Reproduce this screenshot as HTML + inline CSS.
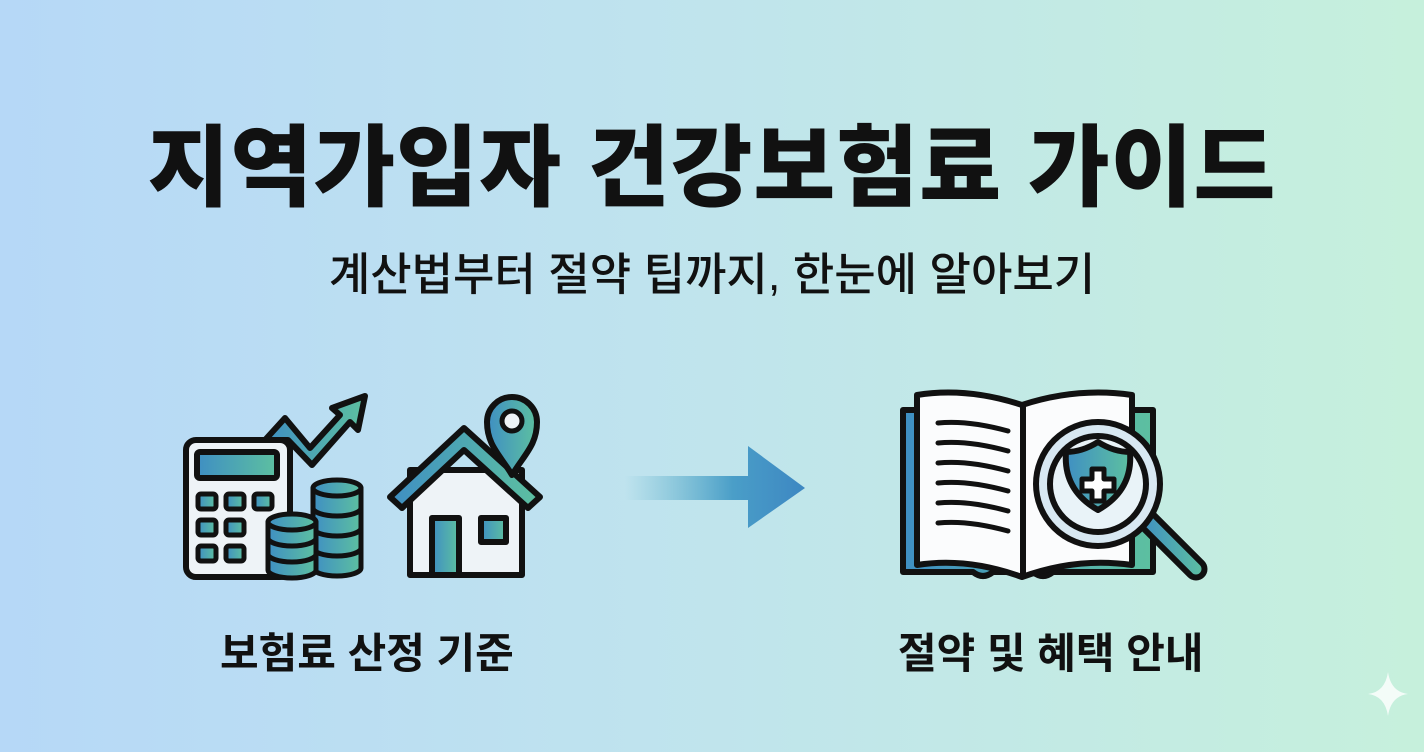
<!DOCTYPE html>
<html><head><meta charset="utf-8"><style>
body{margin:0;width:1424px;height:752px;overflow:hidden;background:linear-gradient(90deg,#b6d8f7 0%,#bfe3ee 45%,#c6f0dc 100%);font-family:"Liberation Sans","Noto Sans CJK KR",sans-serif;color:#111;position:relative}
.t{position:absolute;left:0;width:1424px;text-align:center}
</style></head><body>
<div class="t" style="top:96px;font-size:89px;font-weight:900;letter-spacing:1px">지역가입자 건강보험료 가이드</div>
<div class="t" style="top:238px;font-size:45px;font-weight:500">계산법부터 절약 팁까지, 한눈에 알아보기</div>
<div style="position:absolute;left:220px;top:620px;font-size:42px;font-weight:700">보험료 산정 기준</div>
<div style="position:absolute;left:898px;top:620px;font-size:42px;font-weight:700">절약 및 혜택 안내</div>
<svg width="1424" height="752" style="position:absolute;left:0;top:0">
<defs>
<linearGradient id="g" x1="0" y1="0" x2="1" y2="0"><stop offset="0" stop-color="#3f8fc3"/><stop offset="1" stop-color="#5dc0a0"/></linearGradient>
<linearGradient id="ar" x1="625" y1="0" x2="805" y2="0" gradientUnits="userSpaceOnUse"><stop offset="0" stop-color="#5ab0c8" stop-opacity="0"/><stop offset="0.6" stop-color="#4a9ec8"/><stop offset="1" stop-color="#3d87c2"/></linearGradient>
</defs>
<g stroke="#111" stroke-width="6" stroke-linejoin="round" stroke-linecap="round">
<path d="M265 440 L285 418 L310 448 L340 415 L332 408 L365 396 L358 430 L350 422 L312 465 L288 440 Z" fill="url(#g)"/>
<rect x="186" y="440" width="104" height="137" rx="10" fill="#eef3f7"/>
<rect x="197" y="452" width="80" height="26" rx="3" fill="url(#g)"/>
<g fill="url(#g)" stroke-width="5">
<rect x="198" y="494" width="18" height="15" rx="3"/><rect x="226" y="494" width="18" height="15" rx="3"/><rect x="254" y="494" width="18" height="15" rx="3"/>
<rect x="198" y="520" width="18" height="15" rx="3"/><rect x="226" y="520" width="18" height="15" rx="3"/>
<rect x="198" y="546" width="18" height="15" rx="3"/><rect x="226" y="546" width="18" height="15" rx="3"/>
</g>
<g fill="url(#g)" stroke-width="5">
<path d="M313 488 v80 a24 8 0 0 0 48 0 v-80 Z"/><ellipse cx="337" cy="488" rx="24" ry="8"/>
<path d="M313 508 a24 8 0 0 0 48 0 M313 528 a24 8 0 0 0 48 0 M313 548 a24 8 0 0 0 48 0" fill="none"/>
<path d="M268 522 v48 a24 8 0 0 0 48 0 v-48 Z"/><ellipse cx="292" cy="522" rx="24" ry="8"/>
<path d="M268 538 a24 8 0 0 0 48 0 M268 554 a24 8 0 0 0 48 0" fill="none"/>
</g>
<rect x="410" y="470" width="112" height="105" fill="#eef3f7"/>
<path d="M390 497 L464 428 L540 497 L528 508 L464 450 L402 508 Z" fill="url(#g)"/>
<rect x="432" y="518" width="27" height="57" fill="url(#g)"/>
<rect x="481" y="518" width="25" height="24" fill="url(#g)"/>
<path d="M512 475 C500 455 487 445 487 422 A25 25 0 0 1 537 422 C537 445 524 455 512 475 Z" fill="url(#g)"/>
<circle cx="512" cy="421" r="10" fill="#eef3f7" stroke-width="5"/>
<path d="M903 410 h250 v162 h-100 q-10 8 -20 0 h-40 q-10 8 -20 0 h-70 Z" fill="url(#g)"/>
<path d="M917 395 q50 -8 105 10 q55 -18 110 -10 v170 q-55 -8 -110 12 q-55 -20 -105 -12 Z" fill="#fbfcfd"/>
<path d="M1023 406 v170" fill="none"/>
<g fill="none" stroke-width="5"><path d="M938 423 q30 -3 70 8 M938 443 q30 -3 70 8 M938 463 q30 -3 70 8 M938 483 q30 -3 70 8 M938 503 q30 -3 70 8 M938 523 q30 -3 70 8"/></g>
<path d="M1140 525 L1190 575 a8 8 0 0 0 12 -12 L1152 513 Z" fill="url(#g)"/>
<circle cx="1098" cy="484" r="62" fill="#d8e8f2"/>
<circle cx="1098" cy="484" r="48" fill="#e9f3f8"/>
<path d="M1098 442 q16 10 32 10 q3 38 -32 58 q-35 -20 -32 -58 q16 0 32 -10 Z" fill="url(#g)"/>
<path d="M1092 469 h12 v10 h10 v12 h-10 v10 h-12 v-10 h-10 v-12 h10 Z" fill="#fff" stroke-width="5"/>
</g>
<path d="M625 476 H748 V446 L805 488 L748 528 V500 H625 Z" fill="url(#ar)"/>
<path d="M1388 672 q3 20 20 22 q-17 2 -20 22 q-3 -20 -20 -22 q17 -2 20 -22 Z" fill="#fff" opacity="0.8"/>
</svg>
</body></html>
